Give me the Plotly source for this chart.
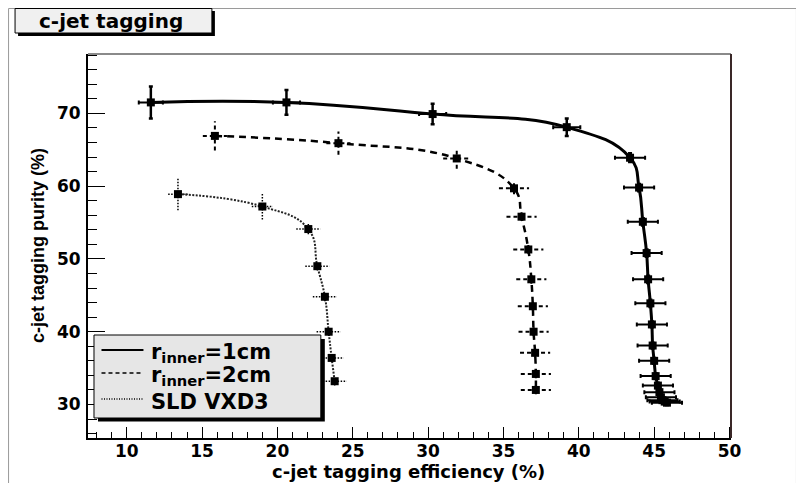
import plotly.graph_objects as go

# ---------------- data ----------------
eff_1cm = [11.6, 20.6, 30.3, 39.2, 43.4, 44.0, 44.25, 44.5, 44.6, 44.75, 44.85, 44.9,
           45.0, 45.1, 45.25, 45.35, 45.45, 45.55, 45.7, 45.85]
pur_1cm = [71.5, 71.5, 69.9, 68.1, 63.9, 59.8, 55.1, 50.8, 47.2, 43.9, 41.0, 38.1,
           36.0, 33.9, 32.6, 31.7, 31.0, 30.6, 30.4, 30.25]
eff_err_1cm = [0.8, 0.9, 0.9, 0.9, 1.0, 1.0, 1.0, 1.0, 1.0, 1.0, 1.0, 1.0,
               1.0, 1.0, 1.0, 1.0, 1.0, 1.0, 1.0, 1.0]
pur_err_1cm = [2.2, 1.7, 1.4, 1.2, 0.6, 0.5, 0.5, 0.5, 0.5, 0.5, 0.4, 0.4,
               0.4, 0.4, 0.4, 0.3, 0.3, 0.3, 0.3, 0.3]

eff_2cm = [15.85, 24.05, 31.9, 35.7, 36.2, 36.65, 36.85, 36.95, 37.0, 37.1, 37.15, 37.15]
pur_2cm = [66.9, 65.9, 63.8, 59.7, 55.8, 51.3, 47.2, 43.5, 40.0, 37.1, 34.2, 32.0]
eff_err_2cm = [0.8, 0.8, 0.9, 1.0, 1.0, 1.0, 1.0, 1.0, 1.0, 1.0, 1.0, 1.0]
pur_err_2cm = [2.0, 1.6, 1.4, 0.8, 0.6, 0.6, 0.6, 0.6, 0.6, 0.6, 0.6, 0.6]

eff_sld = [13.4, 19.0, 22.05, 22.65, 23.15, 23.4, 23.6, 23.8]
pur_sld = [58.9, 57.2, 54.1, 49.0, 44.8, 40.0, 36.4, 33.2]
eff_err_sld = [0.65, 0.7, 0.8, 0.8, 0.8, 0.8, 0.8, 0.8]
pur_err_sld = [2.2, 1.8, 0.7, 0.6, 0.6, 0.6, 0.6, 0.6]

x_ticks = [10, 15, 20, 25, 30, 35, 40, 45, 50]
y_ticks = [30, 40, 50, 60, 70]

title_text = "c-jet tagging"
x_title = "c-jet tagging efficiency (%)"
y_title = "c-jet tagging purity (%)"
legend_labels = ["r<sub>inner</sub>=1cm", "r<sub>inner</sub>=2cm", "SLD VXD3"]

# ---------------- layout helpers ----------------
OFF = 8                      # page body margin in the browser
W, H = 804 - OFF, 483 - OFF  # figure size so the page fits the window
L, T = 88 - OFF, 54 - OFF    # plot area (page px 88..731.5, 54..438)
R = W - (731.5 - OFF)
B = H - (438 - OFF)
PW, PH = W - L - R, H - T - B


def xp(px):  # page pixel -> paper
    return (px - OFF - L) / PW


def yp(py):
    return (H - B - (py - OFF)) / PH


def err_segments(x, y, ex, ey):
    xs, ys = [], []
    for xi, yi, exi, eyi in zip(x, y, ex, ey):
        xs += [xi - exi, xi + exi, None, xi, xi, None]
        ys += [yi, yi, None, yi - eyi, yi + eyi, None]
    return xs, ys


fig = go.Figure()

# error bars for dashed / dotted series (drawn as styled segments)
for ex_, ey_, exe, eye, dash, w in [
    (eff_2cm, pur_2cm, eff_err_2cm, pur_err_2cm, "4px,3px", 2),
    (eff_sld, pur_sld, eff_err_sld, pur_err_sld, "1.5px,1.5px", 1.5),
]:
    sx, sy = err_segments(ex_, ey_, exe, eye)
    fig.add_trace(go.Scatter(x=sx, y=sy, mode="lines", connectgaps=False,
                             line=dict(color="black", width=w, dash=dash),
                             hoverinfo="skip", showlegend=False))

# curves
fig.add_trace(go.Scatter(x=eff_1cm, y=pur_1cm, mode="lines",
                         line=dict(color="black", width=3, shape="spline", smoothing=1.3),
                         showlegend=False))
fig.add_trace(go.Scatter(x=eff_2cm, y=pur_2cm, mode="lines",
                         line=dict(color="black", width=2.5, dash="7px,5px",
                                   shape="spline", smoothing=1.3),
                         showlegend=False))
fig.add_trace(go.Scatter(x=eff_sld, y=pur_sld, mode="lines",
                         line=dict(color="#222222", width=2, dash="2px,1.5px",
                                   shape="spline", smoothing=1.3),
                         showlegend=False))

# markers
fig.add_trace(go.Scatter(x=eff_1cm, y=pur_1cm, mode="markers",
                         marker=dict(symbol="square", size=8, color="black"),
                         error_x=dict(type="data", array=eff_err_1cm, color="black",
                                      thickness=2, width=2),
                         error_y=dict(type="data", array=pur_err_1cm, color="black",
                                      thickness=2.5, width=2),
                         showlegend=False))
fig.add_trace(go.Scatter(x=eff_2cm, y=pur_2cm, mode="markers",
                         marker=dict(symbol="square", size=8, color="black"),
                         showlegend=False))
fig.add_trace(go.Scatter(x=eff_sld, y=pur_sld, mode="markers",
                         marker=dict(symbol="square", size=8, color="black"),
                         showlegend=False))

tick_font = dict(family="DejaVu Sans", size=17, color="black")

fig.update_xaxes(range=[7.43, 50.1], tickvals=x_ticks,
                 ticktext=["<b>%d</b>" % v for v in x_ticks],
                 ticks="inside", ticklen=11,
                 tickwidth=1, tickcolor="black", showline=True, linecolor="black",
                 linewidth=2, showgrid=False, zeroline=False, tickfont=tick_font,
                 ticklabelstandoff=-3,
                 minor=dict(dtick=1, tick0=0, ticks="inside", ticklen=6,
                            tickcolor="black", tickwidth=1, showgrid=False))
fig.update_yaxes(range=[25.4, 78.15], tickvals=y_ticks,
                 ticktext=["<b>%d</b>" % v for v in y_ticks],
                 ticks="inside", ticklen=17,
                 tickwidth=1, tickcolor="black", showline=True, linecolor="black",
                 linewidth=2, showgrid=False, zeroline=False, tickfont=tick_font,
                 ticklabelstandoff=2,
                 minor=dict(dtick=2, tick0=0, ticks="inside", ticklen=9,
                            tickcolor="black", tickwidth=1, showgrid=False))

shapes = []
# canvas border
shapes.append(dict(type="line", xref="paper", yref="paper", x0=xp(8.5), x1=xp(8.5),
                   y0=yp(8.5), y1=yp(483), line=dict(color="#9a9a9a", width=1), layer="above"))
shapes.append(dict(type="line", xref="paper", yref="paper", x0=xp(8.5), x1=xp(797),
                   y0=yp(8.5), y1=yp(8.5), line=dict(color="#9a9a9a", width=1), layer="above"))
shapes.append(dict(type="line", xref="paper", yref="paper", x0=xp(797), x1=xp(797),
                   y0=yp(8.5), y1=yp(483), line=dict(color="#9a9a9a", width=1), layer="above"))
# frame top (gray) and right (dark)
shapes.append(dict(type="line", xref="paper", yref="paper", x0=0, x1=1, y0=1, y1=1,
                   line=dict(color="#8a8a8a", width=2), layer="above"))
shapes.append(dict(type="line", xref="paper", yref="paper", x0=1, x1=1,
                   y0=0, y1=1, line=dict(color="#3a2828", width=2), layer="above"))

# title box with shadow
shapes.append(dict(type="rect", xref="paper", yref="paper", x0=xp(18), x1=xp(215),
                   y0=yp(36), y1=yp(11), fillcolor="black", line=dict(width=0), layer="above"))
shapes.append(dict(type="rect", xref="paper", yref="paper", x0=xp(15), x1=xp(212),
                   y0=yp(33), y1=yp(8.5), fillcolor="#f0f0f0",
                   line=dict(color="black", width=1), layer="above"))

# legend box with shadow
shapes.append(dict(type="rect", xref="paper", yref="paper", x0=xp(98), x1=xp(325),
                   y0=yp(421.5), y1=yp(339), fillcolor="black", line=dict(width=0), layer="above"))
shapes.append(dict(type="rect", xref="paper", yref="paper", x0=xp(94), x1=xp(321),
                   y0=yp(418), y1=yp(335), fillcolor="#e6e6e6",
                   line=dict(color="black", width=1), layer="above"))
leg_rows = [350, 373, 399]
leg_styles = [("solid", 2), ("4px,3px", 1.5), ("1px,1.5px", 1.5)]
for ry, (dsh, lw) in zip(leg_rows, leg_styles):
    shapes.append(dict(type="line", xref="paper", yref="paper", x0=xp(101.5), x1=xp(143.5),
                       y0=yp(ry), y1=yp(ry), line=dict(color="black", width=lw, dash=dsh),
                       layer="above"))

annotations = []
annotations.append(dict(text="<b>%s</b>" % title_text, xref="paper", yref="paper",
                        x=xp(111), y=yp(21), xanchor="center", yanchor="middle",
                        showarrow=False,
                        font=dict(family="DejaVu Sans", size=20, color="black")))
annotations.append(dict(text="<b>%s</b>" % x_title, xref="paper", yref="paper",
                        x=xp(409), y=yp(471), xanchor="center", yanchor="middle",
                        showarrow=False,
                        font=dict(family="DejaVu Sans", size=18, color="black")))
annotations.append(dict(text="<b>%s</b>" % y_title, xref="paper", yref="paper",
                        x=xp(38), y=yp(246), xanchor="center", yanchor="middle",
                        showarrow=False, textangle=-90,
                        font=dict(family="Liberation Sans", size=18, color="black")))
leg_text_y = [353, 375.5, 402]
for lab, ty in zip(legend_labels, leg_text_y):
    annotations.append(dict(text="<b>%s</b>" % lab, xref="paper", yref="paper",
                            x=xp(149), y=yp(ty), xanchor="left", yanchor="middle",
                            showarrow=False,
                            font=dict(family="DejaVu Sans", size=21, color="black")))

fig.update_layout(width=W, height=H, margin=dict(l=L, r=R, t=T, b=B, pad=0),
                  plot_bgcolor="white", paper_bgcolor="white", showlegend=False,
                  shapes=shapes, annotations=annotations)

fig.write_html("out.html")
